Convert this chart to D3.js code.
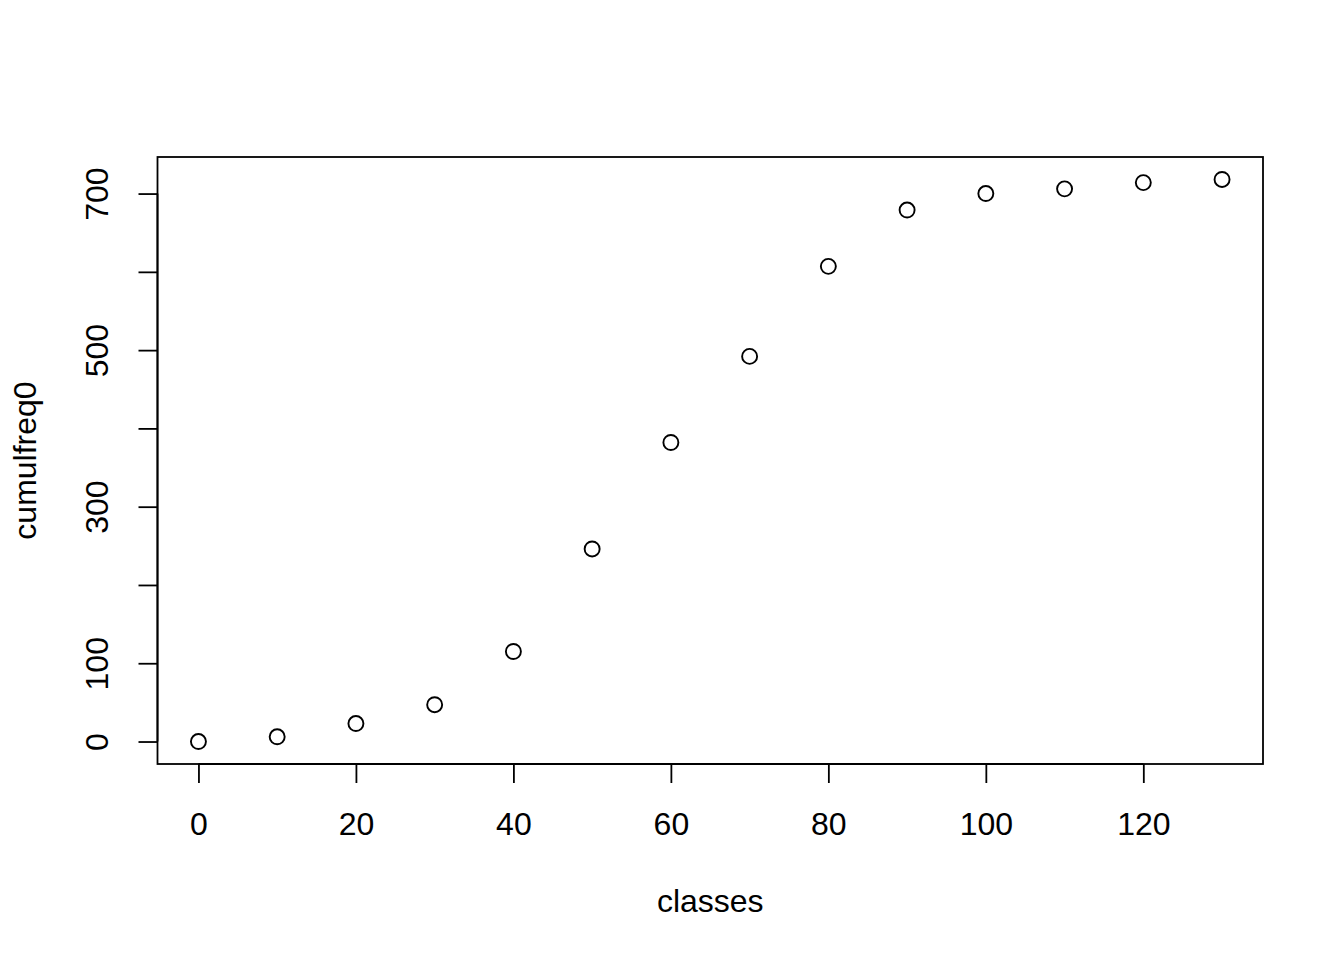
<!DOCTYPE html>
<html><head><meta charset="utf-8">
<script src="https://cdn.jsdelivr.net/npm/d3@7"></script>
<style>body{margin:0;background:#fff}svg{display:block}text{font-family:"Liberation Sans",Arial,Helvetica,sans-serif;fill:#000}</style>
</head><body>
<script>
const classes = [0,10,20,30,40,50,60,70,80,90,100,110,120,130];
const cumulfreq0 = [0,6,23,47,115,246,382,492,607,679,700,706,714,718];
const xTicks = [0,20,40,60,80,100,120];
const yTicks = [0,100,200,300,400,500,600,700];
const yLabelTicks = [0,100,300,500,700];
const xLabel = "classes", yLabel = "cumulfreq0";

const W=1344,H=960, L=157.5, R=1263, T=157, B=764;
const svg=d3.select("body").append("svg").attr("width",W).attr("height",H);
const xe=d3.extent(classes), ye=d3.extent(cumulfreq0);
const xp=(xe[1]-xe[0])*0.04, yp=(ye[1]-ye[0])*0.04;
const x=d3.scaleLinear().domain([xe[0]-xp,xe[1]+xp]).range([L,R]);
const y=d3.scaleLinear().domain([ye[0]-yp,ye[1]+yp]).range([B,T]);
const fs=32;

svg.append("rect").attr("x",L).attr("y",T).attr("width",R-L).attr("height",B-T)
  .attr("fill","none").attr("stroke","#000").attr("stroke-width",1.8);

const xa=svg.append("g").attr("transform",`translate(0,${B})`)
  .call(d3.axisBottom(x).tickValues(xTicks).tickSize(19).tickPadding(29).tickFormat(d3.format("d")));
xa.select(".domain").attr("d",`M${x(xTicks[0])},0H${x(xTicks[xTicks.length-1])}`).attr("stroke-width",1.8);
xa.selectAll(".tick line").attr("stroke-width",1.8);
xa.selectAll("text").attr("font-size",fs).attr("font-family",null);

const ya=svg.append("g").attr("transform",`translate(${L},0)`)
  .call(d3.axisLeft(y).tickValues(yTicks).tickSize(19).tickFormat(d=>yLabelTicks.includes(d)?d:""));
ya.select(".domain").attr("d",`M0,${y(yTicks[0])}V${y(yTicks[yTicks.length-1])}`).attr("stroke-width",1.8);
ya.selectAll(".tick line").attr("stroke-width",1.8);
ya.selectAll("text").attr("font-size",fs).attr("font-family",null)
  .attr("text-anchor","middle").attr("x",0).attr("dy",null).attr("dominant-baseline","middle")
  .attr("transform",d=>`translate(-58,0) rotate(-90)`);

svg.selectAll("circle.pt").data(classes).join("circle").attr("class","pt")
  .attr("cx",(d)=>x(d)).attr("cy",(d,i)=>y(cumulfreq0[i])).attr("r",7.5)
  .attr("fill","none").attr("stroke","#000").attr("stroke-width",1.9);

svg.append("text").attr("x",(L+R)/2).attr("y",912).attr("text-anchor","middle").attr("font-size",fs).text(xLabel);
svg.append("text").attr("transform",`translate(36,${(T+B)/2}) rotate(-90)`).attr("text-anchor","middle").attr("font-size",fs).text(yLabel);
</script>
</body></html>
